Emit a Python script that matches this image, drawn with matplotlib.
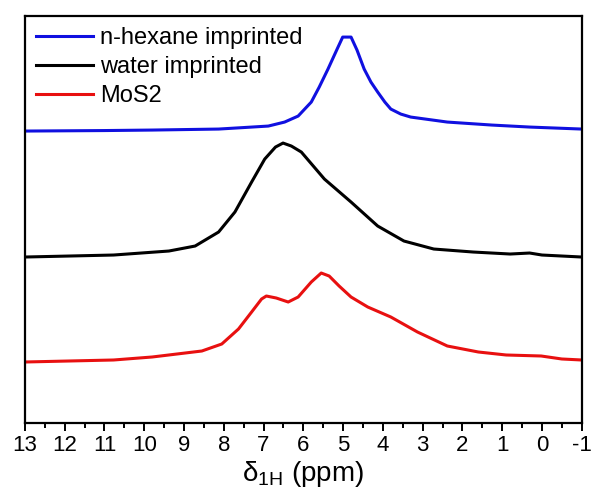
import numpy as np
import matplotlib
matplotlib.use("Agg")
import matplotlib.pyplot as plt
from matplotlib.ticker import MultipleLocator

plt.rcParams['font.family'] = ['Liberation Sans', 'DejaVu Sans']
plt.rcParams['mathtext.default'] = 'regular'
plt.rcParams['axes.unicode_minus'] = False

# chemical shift (ppm) and stacked intensities (arbitrary units)
hex_ppm = [13, 11, 9.8, 8.13, 7.5, 6.88, 6.47, 6.13, 5.8, 5.6, 5.38, 5.15, 5.01, 4.8, 4.65, 4.47, 4.3, 4.13, 3.95, 3.8, 3.55, 3.3, 2.38, 1.26, 0.31, -1]
hex_int = [292, 292.5, 293, 294, 295.5, 297, 301, 307, 321, 336, 354, 374, 386, 386, 373, 354, 341, 331, 321, 314, 309, 306, 301, 298, 296, 294]

wat_ppm = [13, 10.77, 9.38, 8.72, 8.13, 7.72, 7.3, 6.97, 6.7, 6.51, 6.3, 6.05, 5.47, 4.8, 4.13, 3.47, 2.72, 1.73, 0.8, 0.31, 0.0, -1]
wat_int = [166, 168, 172, 177, 191, 211, 241, 264, 276, 280, 277, 271, 244, 221, 197, 182, 174, 171, 169, 170, 168, 166]

mos_ppm = [13, 10.77, 9.8, 8.55, 8.05, 7.63, 7.3, 7.05, 6.93, 6.68, 6.38, 6.13, 5.8, 5.55, 5.35, 5.1, 4.8, 4.38, 3.8, 3.13, 2.38, 1.6, 0.9, 0.02, -0.5, -1]
mos_int = [61, 63, 66, 72, 79, 94, 111, 124, 127, 125, 121, 126, 141, 150, 147, 137, 126, 116, 106, 91, 77, 71, 68, 67, 64, 63]

fig = plt.figure(figsize=(5.93, 4.95), dpi=100)
ax = fig.add_axes([0.042, 0.1455, 0.939, 0.822])

ax.plot(hex_ppm, hex_int, color='#1010e0', lw=2.2, label='n-hexane imprinted')
ax.plot(wat_ppm, wat_int, color='black', lw=2.2, label='water imprinted')
ax.plot(mos_ppm, mos_int, color='#e81010', lw=2.2, label='MoS2')

ax.set_xlim(13, -1)
ax.set_ylim(0, 407)
ax.set_yticks([])
ax.xaxis.set_major_locator(MultipleLocator(1))
ax.xaxis.set_minor_locator(MultipleLocator(0.5))
ax.tick_params(axis='x', which='major', direction='out', length=6, width=1.4, labelsize=16, pad=2.5)
ax.tick_params(axis='x', which='minor', direction='out', length=3.6, width=1.4)
for s in ax.spines.values():
    s.set_linewidth(1.6)

ax.set_xlabel(r'$\delta_{1H}$ (ppm)', fontsize=20, labelpad=2)
ax.legend(loc='upper left', frameon=False, fontsize=17, handlelength=2.4,
          handletextpad=0.3, labelspacing=0.29, borderaxespad=0.1, borderpad=0.38)

plt.savefig('out.png', dpi=100)
